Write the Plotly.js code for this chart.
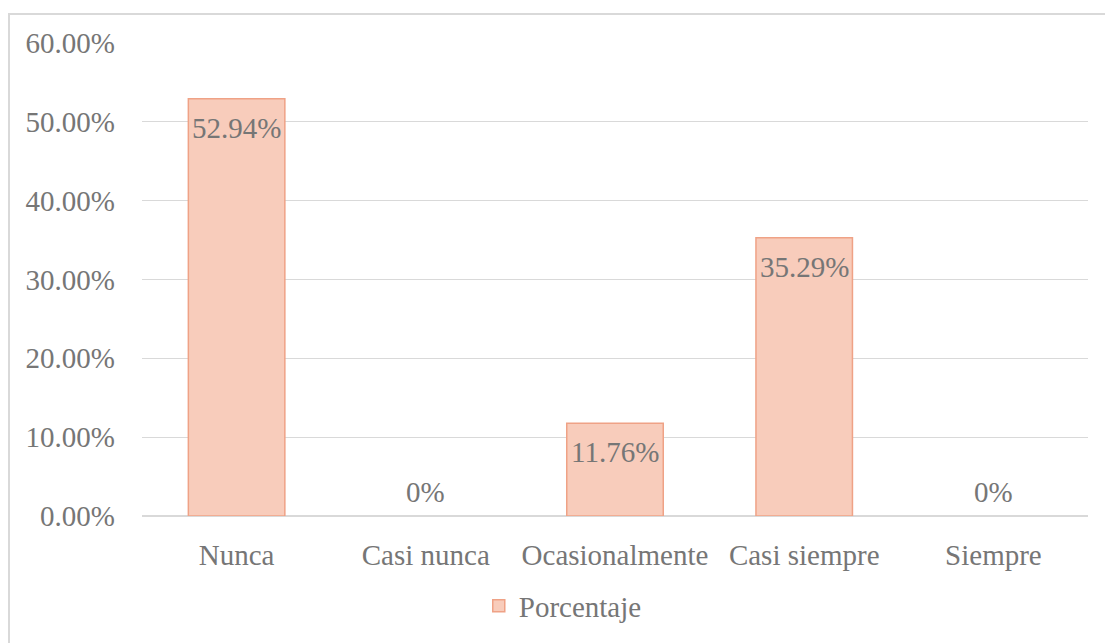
<!DOCTYPE html>
<html>
<head>
<meta charset="utf-8">
<script src="https://cdn.plot.ly/plotly-3.0.1.min.js"></script>
<style>
  html, body { margin: 0; padding: 0; background: #ffffff; }
  #frame { position: absolute; left: 8px; top: 13px; width: 1120px; height: 660px;
           border-left: 2px solid #D9D9D9; border-top: 2px solid #D9D9D9; }
  #chart { position: absolute; left: 0; top: 0; width: 1105px; height: 643px; }
</style>
</head>
<body>
<div id="frame"></div>
<div id="chart"></div>
<script>
const categories = ["Nunca", "Casi nunca", "Ocasionalmente", "Casi siempre", "Siempre"];
const porcentaje = [0.5294, 0, 0.1176, 0.3529, 0];
const labels = ["52.94%", "0%", "11.76%", "35.29%", "0%"];
const seriesName = "Porcentaje";

const textColor = "#767676";
const fontFamily = "'Liberation Serif', 'Times New Roman', serif";
const fontSize = 29;

const trace = {
  type: "bar",
  x: categories,
  y: porcentaje,
  name: seriesName,
  marker: {
    color: "#F8CCBB",
    line: { color: "#EFA286", width: porcentaje.map(v => v > 0 ? 1.5 : 0) }
  },
  hoverinfo: "skip",
  showlegend: true
};

const annotations = categories.map((c, i) => ({
  x: c,
  y: porcentaje[i],
  xref: "x",
  yref: "y",
  text: labels[i],
  showarrow: false,
  yanchor: porcentaje[i] > 0 ? "top" : "bottom",
  yshift: porcentaje[i] > 0 ? -11 : 6,
  font: { family: fontFamily, size: fontSize, color: textColor }
}));

const layout = {
  width: 1105,
  height: 643,
  paper_bgcolor: "rgba(0,0,0,0)",
  plot_bgcolor: "rgba(0,0,0,0)",
  margin: { l: 142, r: 17, t: 43, b: 124 },
  font: { family: fontFamily, size: fontSize, color: textColor },
  bargap: 0.49,
  xaxis: {
    type: "category",
    showgrid: false,
    zeroline: false,
    showline: false,
    ticks: "",
    ticklabelstandoff: 19,
    tickfont: { family: fontFamily, size: fontSize, color: textColor }
  },
  yaxis: {
    range: [0, 0.6],
    dtick: 0.1,
    tickformat: ".2%",
    showgrid: true,
    gridcolor: "#D9D9D9",
    gridwidth: 1.3,
    zeroline: true,
    zerolinecolor: "#D9D9D9",
    zerolinewidth: 1.3,
    showline: false,
    ticks: "",
    ticklabelstandoff: 26,
    tickfont: { family: fontFamily, size: fontSize, color: textColor }
  },
  showlegend: true,
  legend: {
    orientation: "h",
    x: 0.356,
    xanchor: "left",
    y: -0.19,
    yanchor: "middle",
    font: { family: fontFamily, size: fontSize, color: textColor },
    bgcolor: "rgba(0,0,0,0)"
  },
  annotations: annotations
};

Plotly.newPlot("chart", [trace], layout, { displayModeBar: false, staticPlot: true });
</script>
</body>
</html>
